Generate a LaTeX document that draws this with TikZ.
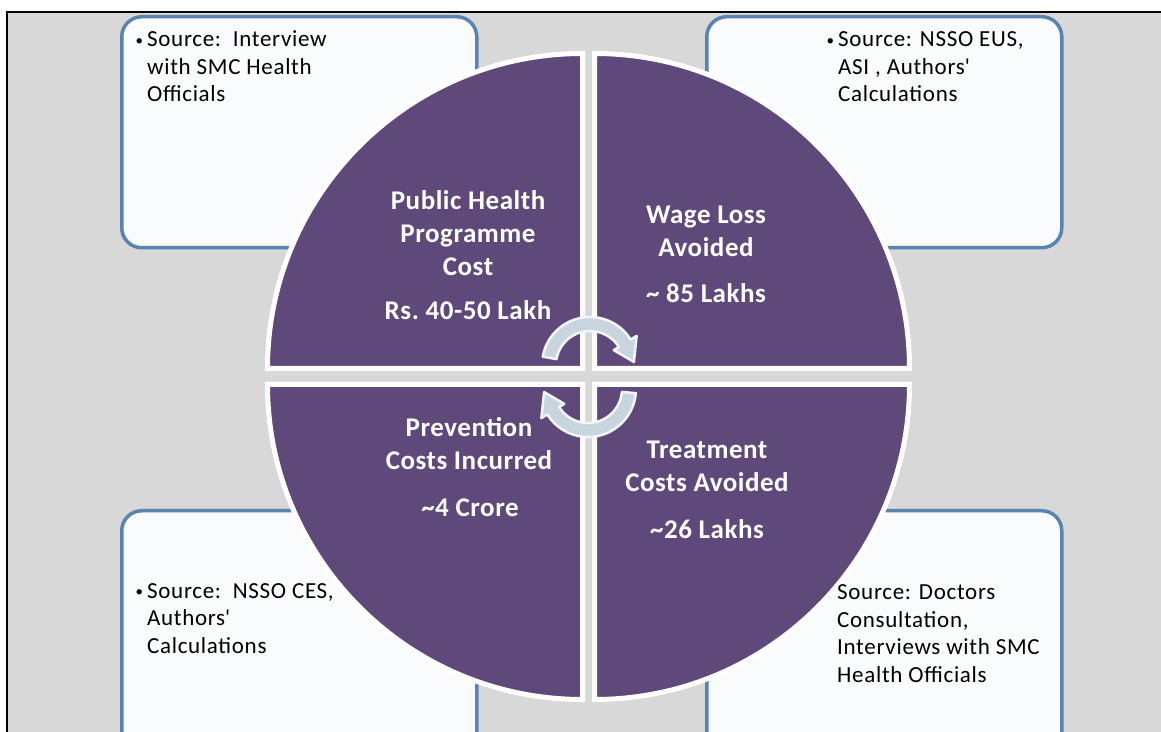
\documentclass[tikz,border=0pt]{standalone}
\usepackage{fontspec}
\setmainfont{Carlito}
\newfontfamily\qfont[LetterSpace=2]{Carlito}
\newfontfamily\sfont[LetterSpace=3]{Carlito}
\definecolor{bggray}{HTML}{D8D8D8}
\definecolor{qpurple}{HTML}{5F497A}
\definecolor{boxblue}{HTML}{5A84B0}
\definecolor{boxfill}{HTML}{FAFBFC}
\definecolor{arrowfill}{HTML}{C8D5DE}
\definecolor{arrowedge}{HTML}{F2F5F7}
\tikzset{
  srcbox/.style={draw=boxblue, line width=3.5pt, fill=boxfill, rounded corners=20pt,
    minimum width=355pt, minimum height=231pt, anchor=north west, inner sep=0pt},
  quad/.style={fill=qpurple, draw=white, line width=5pt},
  qtext/.style={text=white, align=center, inner sep=0pt, anchor=base,
    font=\qfont\bfseries\fontsize{27}{33}\selectfont},
  stext/.style={text=black, align=left, inner sep=0pt, anchor=base west,
    font=\sfont\fontsize{23}{27.5}\selectfont},
  cycarrow/.style={fill=arrowfill, draw=arrowedge, line width=2.5pt, line join=round}
}
\newcommand{\bul}{\llap{\raisebox{1.5pt}{\fontsize{15}{15}\selectfont\textbullet}\hspace{4pt}}}
\begin{document}
\begin{tikzpicture}[x=1pt,y=1pt]
\useasboundingbox (0,0) rectangle (1161,731);
\clip (0,0) rectangle (1161,731);
\fill[white] (0,0) rectangle (1161,731);
\filldraw[fill=bggray, draw=black, line width=1.2pt] (7,719) rectangle (1180,-20);

% source boxes
\node[srcbox] (tlbox) at (120,716) {};
\node[srcbox] (trbox) at (705,716) {};
\node[srcbox, minimum height=260pt] (blbox) at (120,222) {};
\node[srcbox, minimum height=260pt] (brbox) at (705,222) {};

% quadrants
\path[quad] (582.5,362.5) -- ++(-315,0) arc[start angle=180, end angle=90, radius=315] -- cycle;
\path[quad] (594.5,362.5) -- ++(0,315) arc[start angle=90, end angle=0, radius=315] -- cycle;
\path[quad] (582.5,346.5) -- ++(0,-315) arc[start angle=270, end angle=180, radius=315] -- cycle;
\path[quad] (594.5,346.5) -- ++(315,0) arc[start angle=0, end angle=-90, radius=315] -- cycle;

% circular arrows
\coordinate (tac) at (590,366);
\coordinate (bac) at (588,342);
\path[cycarrow] ([shift={(170:48)}]tac) arc[start angle=170, end angle=32, radius=48]
  -- ([shift={(32:55)}]tac) -- ([shift={(4:44)}]tac) -- ([shift={(32:28)}]tac)
  -- ([shift={(32:34)}]tac) arc[start angle=32, end angle=170, radius=34] -- cycle;
\path[cycarrow] ([shift={(-5:48)}]bac) arc[start angle=-5, end angle=-148, radius=48]
  -- ([shift={(-148:55)}]bac) -- ([shift={(-176:44)}]bac) -- ([shift={(-148:28)}]bac)
  -- ([shift={(-148:34)}]bac) arc[start angle=-148, end angle=-5, radius=34] -- cycle;

% quadrant texts (anchor = baseline of last line)
\node[qtext] (tlt) at (468,455) {Public Health\\Programme\\Cost};
\node[qtext] (tlv) at (468,411) {Rs.\ 40-50 Lakh};
\node[qtext] (trt) at (706,474) {Wage Loss\\Avoided};
\node[qtext] (trv) at (706,428) {\textasciitilde\ 85 Lakhs};
\node[qtext] (blt) at (469,261) {Prevention\\Costs Incurred};
\node[qtext] (blv) at (470,214) {\textasciitilde 4 Crore};
\node[qtext] (brt) at (707,239) {Treatment\\Costs Avoided};
\node[qtext] (brv) at (707,193) {\textasciitilde 26 Lakhs};

% source texts (anchor = baseline of last line)
\node[stext] (tls) at (147,629) {\bul Source:\ \ Interview\\with SMC Health\\Officials};
\node[stext] (trs) at (838,629) {\bul Source: NSSO EUS,\\ASI , Authors\textquotesingle\\Calculations};
\node[stext] (bls) at (147,78) {\bul Source:\ \ NSSO CES,\\Authors\textquotesingle\\Calculations};
\node[stext] (brs) at (837,49) {Source: Doctors\\Consultation,\\Interviews with SMC\\Health Officials};
\end{tikzpicture}
\end{document}
